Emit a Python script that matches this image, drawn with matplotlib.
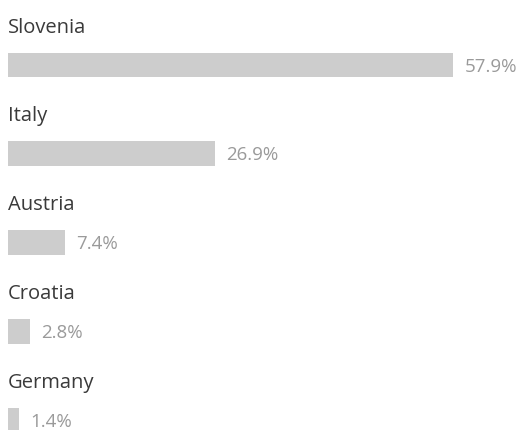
import numpy as np
import matplotlib.pyplot as plt

countries = ['Slovenia', 'Italy', 'Austria', 'Croatia', 'Germany']
shares = [57.9, 26.9, 7.4, 2.8, 1.4]

plt.rcParams['font.family'] = ['Open Sans', 'DejaVu Sans']

fig = plt.figure(figsize=(5.29, 4.30), dpi=100)
ax = fig.add_axes([0, 0, 1, 1])

y = np.arange(len(countries))
ax.barh(y, shares, height=0.28, color='#cdcdcd', edgecolor='none')

for i in range(len(countries)):
    # country name above the bar
    ax.text(0, y[i] - 0.42, countries[i], ha='left', va='center',
            fontsize=14.5, color='#3a3a3a')
    # value right of the bar
    ax.text(shares[i] + 1.5, y[i] + 0.02, '%.1f%%' % shares[i], ha='left',
            va='center', fontsize=13.5, color='#9a9a9a')

ax.set_xlim(-1.04, 67.8)
ax.set_ylim(4.113, -0.732)
ax.axis('off')

fig.savefig('out.png', dpi=100, facecolor='white')
